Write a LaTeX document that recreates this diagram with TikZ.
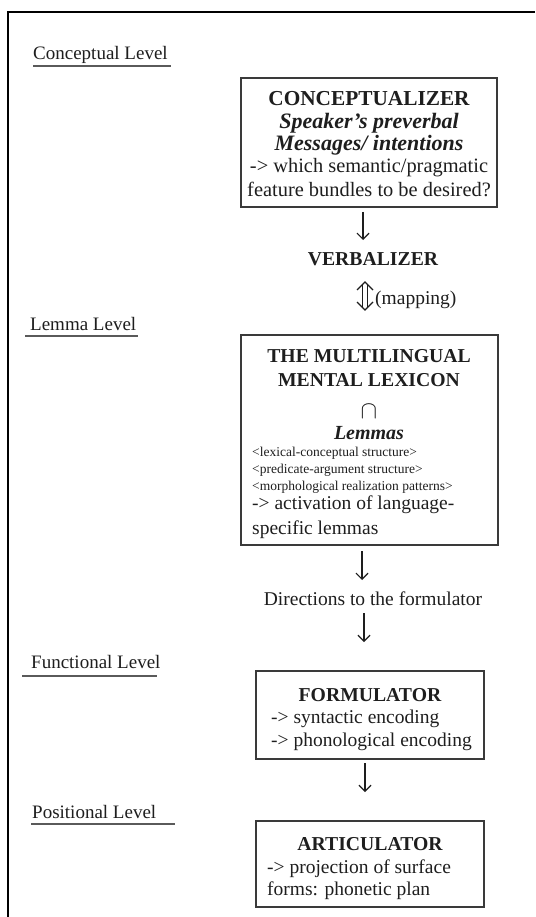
\documentclass[tikz,border=0pt]{standalone}
\usepackage{fontspec}
\setmainfont{Liberation Serif}
\usetikzlibrary{arrows.meta}
\definecolor{ink}{HTML}{1E1E1E}
\definecolor{boxline}{HTML}{3A3A3A}
\definecolor{ulc}{HTML}{5A5A5A}
\begin{document}
\begin{tikzpicture}[x=1pt,y=-1pt,
  every node/.style={inner sep=0pt, text=ink},
  lvl/.style={anchor=base west, font=\fontsize{19}{22}\selectfont},
  ul/.style={draw=ulc, line width=2pt},
  boxst/.style={draw=boxline, line width=1.5pt, rectangle},
  ttl/.style={anchor=base, font=\bfseries\fontsize{19.7}{23}\selectfont},
  bit/.style={anchor=base, font=\bfseries\itshape\fontsize{22}{24}\selectfont},
  bod/.style={font=\fontsize{19.5}{23}\selectfont},
  sml/.style={anchor=base west, font=\fontsize{13.5}{16}\selectfont},
  arr/.style={draw=ink, line width=1.2pt, -{Straight Barb[length=6pt,width=12pt]}},
  dblst/.style={draw=ink, line width=1.1pt, line join=miter}
]
\useasboundingbox (0,0) rectangle (535,917);
\fill[white] (0,0) rectangle (535,917);
% frame
\draw[black, line width=2.7pt] (535,12) -- (8,12) -- (8,917);

% level labels
\node[lvl] (lconc) at (33,60) {Conceptual Level};
\draw[ul] (33,66) -- (171,66);
\node[lvl] (llem) at (30,330) {Lemma Level};
\draw[ul] (25,336) -- (138,336);
\node[lvl] (lfun) at (31,668) {Functional Level};
\draw[ul] (22,675.5) -- (157,675.5);
\node[lvl] (lpos) at (32,818) {Positional Level};
\draw[ul] (31,824) -- (175,824);

% conceptualizer
\node[boxst, minimum width=256pt, minimum height=129pt] (concbox) at (369,142.5) {};
\node[ttl, font=\bfseries\fontsize{21.3}{24}\selectfont] (c1) at (369,106) {CONCEPTUALIZER};
\node[bit] (c2) at (369,128.5) {Speaker’s preverbal};
\node[bit] (c3) at (369,151) {Messages/ intentions};
\node[bod, anchor=base, font=\fontsize{20.4}{23}\selectfont] (c4) at (369,173) {-> which semantic/pragmatic};
\node[bod, anchor=base, font=\fontsize{20.4}{23}\selectfont] (c5) at (369,196.5) {feature bundles to be desired?};

% arrow to verbalizer
\coordinate (a1s) at (363,212);
\coordinate (a1e) at (363,240);
\draw[arr] (a1s) -- (a1e);
\node[ttl] (verb) at (373,265) {VERBALIZER};

% mapping (double-headed hollow arrow)
\coordinate (m) at (365,296);
\begin{scope}[shift={(m)}]
  \draw[dblst] (-8,-6) -- (0,-14) -- (8,-6);
  \draw[dblst] (-8,6) -- (0,14) -- (8,6);
  \draw[dblst] (-2.6,-11.4) -- (-2.6,11.4);
  \draw[dblst] (2.6,-11.4) -- (2.6,11.4);
\end{scope}
\node[bod, anchor=base west] (map) at (375,304) {(mapping)};

% lexicon
\node[boxst, minimum width=257pt, minimum height=210pt] (lexbox) at (369.5,440) {};
\node[ttl] (x1) at (369,362) {THE MULTILINGUAL};
\node[ttl] (x2) at (369,386) {MENTAL LEXICON};
\node[anchor=base, font=\fontsize{27}{27}\selectfont] (x3) at (369,418) {$\cap$};
\node[bit, font=\bfseries\itshape\fontsize{20}{24}\selectfont] (x4) at (369,439) {Lemmas};
\node[sml] (x5) at (252,456) {<lexical-conceptual structure>};
\node[sml] (x6) at (252,473) {<predicate-argument structure>};
\node[sml] (x7) at (252,490) {<morphological realization patterns>};
\node[bod, anchor=base west] (x8) at (252,509) {-> activation of language-};
\node[bod, anchor=base west] (x9) at (252,534) {specific lemmas};

% directions
\coordinate (a2s) at (362,551);
\coordinate (a2e) at (362,580);
\draw[arr] (a2s) -- (a2e);
\node[bod, anchor=base] (dir) at (373,605.5) {Directions to the formulator};
\coordinate (a3s) at (364,613);
\coordinate (a3e) at (364,642);
\draw[arr] (a3s) -- (a3e);

% formulator
\node[boxst, minimum width=228pt, minimum height=88pt] (formbox) at (370,715) {};
\node[ttl] (f1) at (370,701) {FORMULATOR};
\node[bod, anchor=base west] (f2) at (271,723) {-> syntactic encoding};
\node[bod, anchor=base west] (f3) at (271,746.5) {-> phonological encoding};

\coordinate (a4s) at (365,763);
\coordinate (a4e) at (365,792);
\draw[arr] (a4s) -- (a4e);

% articulator
\node[boxst, minimum width=228pt, minimum height=86pt] (artbox) at (370,864) {};
\node[ttl] (r1) at (370,850) {ARTICULATOR};
\node[bod, anchor=base west] (r2) at (267,873) {-> projection of surface};
\node[bod, anchor=base west] (r3) at (267,895) {forms: phonetic plan};
\end{tikzpicture}
\end{document}
